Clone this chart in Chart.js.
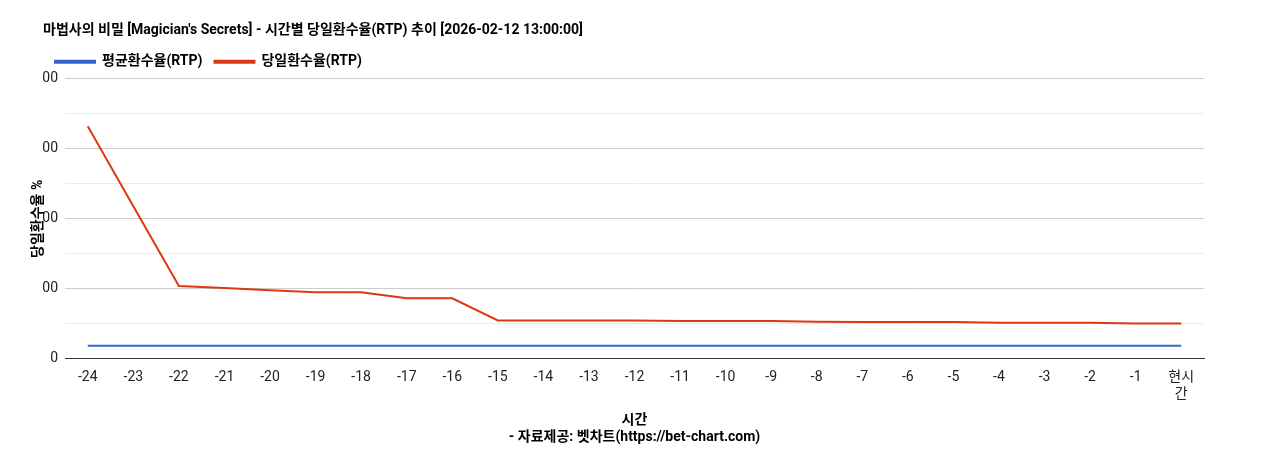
<!DOCTYPE html>
<html><head><meta charset="utf-8">
<script src="https://cdn.jsdelivr.net/npm/chart.js@4"></script>
<style>body{margin:0;background:#fff}#wrap{width:1268px;height:450px}</style>
</head><body><div id="wrap"><canvas id="c"></canvas></div>
<script>
const labels = ['-24','-23','-22','-21','-20','-19','-18','-17','-16','-15','-14','-13','-12','-11','-10','-9','-8','-7','-6','-5','-4','-3','-2','-1',['현시','간']];
const avgRtp = [94,94,94,94,94,94,94,94,94,94,94,94,94,94,94,94,94,94,94,94,94,94,94,94,94];
const dayRtp = [1661,1090,520,505,490,476,476,432,432,274,274,274,274,270,270,270,265,263,263,263,258,258,258,252,252];
const FONT = 'Roboto, "Noto Sans CJK KR"';

const yTitle = {
  id: 'yTitle',
  afterDraw(chart) {
    const c = chart.ctx, a = chart.chartArea;
    c.save();
    c.translate(38, (a.top + a.bottom) / 2);
    c.rotate(-Math.PI / 2);
    c.font = 'bold 14px ' + FONT;
    c.fillStyle = '#000';
    c.textAlign = 'center';
    c.textBaseline = 'middle';
    c.fillText('당일환수율 %', 0, 0);
    c.restore();
  }
};

new Chart(document.getElementById('c'), {
  type: 'line',
  data: {
    labels: labels,
    datasets: [
      {label: '평균환수율(RTP)', data: avgRtp, borderColor: '#3366cc', backgroundColor: '#3366cc', borderWidth: 2, pointRadius: 0, tension: 0},
      {label: '당일환수율(RTP)', data: dayRtp, borderColor: '#dc3912', backgroundColor: '#dc3912', borderWidth: 2, pointRadius: 0, tension: 0}
    ]
  },
  options: {
    responsive: true, maintainAspectRatio: false, animation: false,
    layout: {padding: {left: 43, right: 64, top: 22, bottom: 4}},
    plugins: {
      title: {display: true, align: 'start', text: '마법사의 비밀 [Magician\'s Secrets] - 시간별 당일환수율(RTP) 추이 [2026-02-12 13:00:00]', color: '#000', font: {size: 14, weight: 'bold', family: FONT}, padding: {top: 0, bottom: 4}},
      legend: {align: 'start', labels: {boxWidth: 40, boxHeight: 2, color: '#000', padding: 12, font: {size: 14, weight: 'bold', family: FONT}}},
      tooltip: {enabled: false}
    },
    scales: {
      x: {
        offset: true,
        grid: {display: false},
        border: {color: '#333'},
        ticks: {color: '#222', maxRotation: 0, autoSkip: false, padding: 2, font: {size: 14, family: FONT}},
        title: {display: true, text: ['시간', '- 자료제공: 벳차트(https://bet-chart.com)'], color: '#000', padding: {top: 8, bottom: 0}, font: {size: 14, weight: 'bold', family: FONT}}
      },
      y: {
        min: 0, max: 2000,
        afterFit(s) { s.width = 22; },
        ticks: {stepSize: 250, color: '#222', padding: 7, font: {size: 14, family: FONT},
          callback: v => v % 500 === 0 ? v.toLocaleString('en-US') : ''},
        grid: {color: ctx => ctx.tick.value % 500 === 0 ? '#cccccc' : '#ebebeb', drawTicks: false},
        border: {display: false}
      }
    }
  },
  plugins: [yTitle]
});
</script></body></html>
